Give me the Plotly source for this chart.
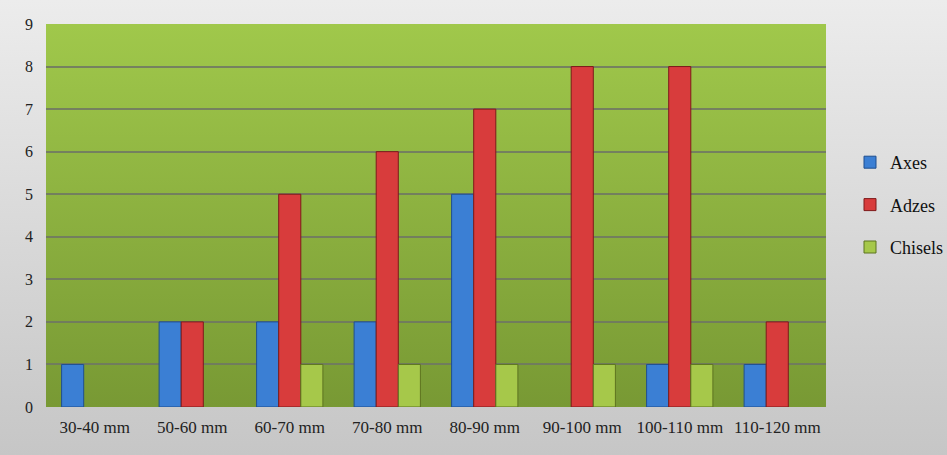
import base64
import plotly.graph_objects as go

# Tool counts per length class
categories = ["30-40 mm", "50-60 mm", "60-70 mm", "70-80 mm", "80-90 mm",
              "90-100 mm", "100-110 mm", "110-120 mm"]
axes_counts = [1, 2, 2, 2, 5, 0, 1, 1]
adzes_counts = [0, 2, 5, 6, 7, 8, 8, 2]
chisels_counts = [0, 0, 1, 1, 1, 1, 1, 0]
y_ticks = list(range(0, 10))

FONT = "Liberation Serif"


def gradient_uri(top, bottom):
    svg = (
        '<svg xmlns="http://www.w3.org/2000/svg" width="100" height="100" '
        'preserveAspectRatio="none">'
        '<defs><linearGradient id="g" x1="0" y1="0" x2="0" y2="1">'
        f'<stop offset="0" stop-color="{top}"/>'
        f'<stop offset="1" stop-color="{bottom}"/>'
        '</linearGradient></defs>'
        '<rect width="100" height="100" fill="url(#g)"/></svg>'
    )
    return "data:image/svg+xml;base64," + base64.b64encode(svg.encode()).decode()


def nz(vals):
    return [v if v else None for v in vals]


series = [
    ("Axes", axes_counts, "#3b7fd4", "#1f4f8f"),
    ("Adzes", adzes_counts, "#d83c3c", "#7e1a1a"),
    ("Chisels", chisels_counts, "#a6c84a", "#5d7420"),
]

fig = go.Figure()
for name, vals, color, edge in series:
    fig.add_trace(go.Bar(
        x=categories, y=nz(vals), name=name,
        marker=dict(color=color, line=dict(color=edge, width=1)),
        legendgroup=name,
    ))

W, H = 947, 455
L, R, T, B = 46, 121, 24, 48
PW, PH = W - L - R, H - T - B

fig.update_layout(
    width=W, height=H,
    margin=dict(l=L, r=R, t=T, b=B, autoexpand=False),
    paper_bgcolor="rgba(0,0,0,0)",
    plot_bgcolor="rgba(0,0,0,0)",
    barmode="group",
    bargap=0.32,
    bargroupgap=0,
    font=dict(family=FONT, size=16, color="#222"),
    showlegend=True,
    legend=dict(
        x=(850 - L) / PW, y=(H - B - 205) / PH, xanchor="left", yanchor="middle",
        font=dict(family=FONT, size=18, color="#111"),
        tracegroupgap=16, bgcolor="rgba(0,0,0,0)", borderwidth=0,
    ),
    xaxis=dict(
        showgrid=False, showline=False, ticks="",
        tickfont=dict(family=FONT, size=17, color="#222"),
        ticklabelstandoff=8,
    ),
    yaxis=dict(
        range=[0, 9], tickvals=y_ticks, showgrid=True,
        gridcolor="rgba(110,118,100,0.85)", gridwidth=1.5,
        zeroline=False, showline=False, ticks="",
        tickfont=dict(family=FONT, size=16, color="#222"), ticklabelstandoff=12,
    ),
    images=[
        dict(source=gradient_uri("#ececec", "#c6c6c6"), xref="paper", yref="paper",
             x=-L / PW, y=1 + T / PH, sizex=W / PW, sizey=H / PH,
             xanchor="left", yanchor="top", sizing="stretch", layer="below"),
        dict(source=gradient_uri("#a0c84b", "#789934"), xref="paper", yref="paper",
             x=0, y=1, sizex=1, sizey=1,
             xanchor="left", yanchor="top", sizing="stretch", layer="below"),
    ],
)

fig.write_html("out.html")
